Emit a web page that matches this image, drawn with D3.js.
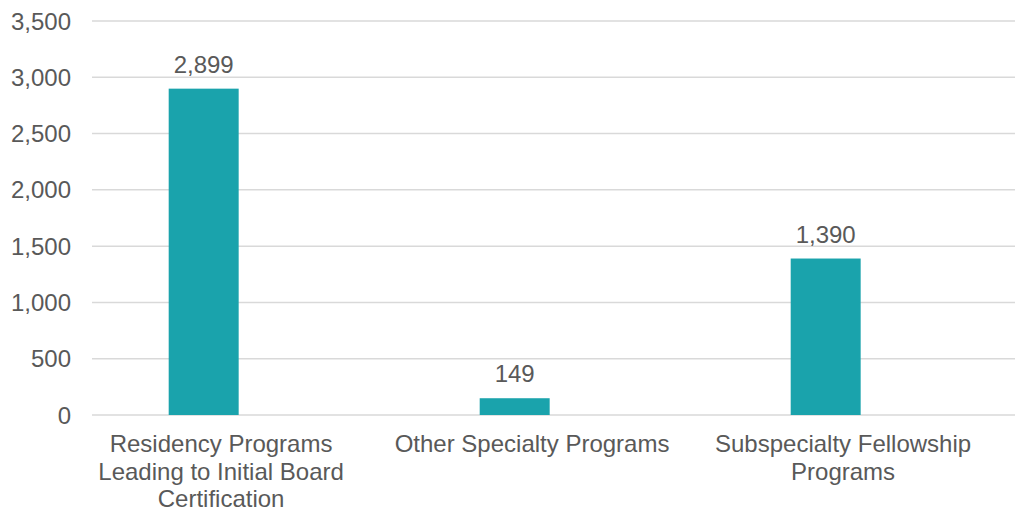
<!DOCTYPE html>
<html lang="en">
<head>
  <meta charset="UTF-8">
  <title>Programs by Type</title>
  <script src="https://d3js.org/d3.v7.min.js"></script>
  <style>
    body {
      margin: 0;
      padding: 0;
      background: #fff;
      font-family: "Liberation Sans", Arial, sans-serif;
    }
    svg text {
      fill: #595959;
    }
  </style>
</head>
<body>
  <div id="chart"></div>

  <script>
    // chart data
    const categories = [
      "Residency Programs Leading to Initial Board Certification",
      "Other Specialty Programs",
      "Subspecialty Fellowship Programs"
    ];
    const categoryLines = [
      ["Residency Programs", "Leading to Initial Board", "Certification"],
      ["Other Specialty Programs"],
      ["Subspecialty Fellowship", "Programs"]
    ];
    const programCounts = [2899, 149, 1390];
    const yTicks = [0, 500, 1000, 1500, 2000, 2500, 3000, 3500];

    const width = 1015, height = 512;
    const margin = {top: 21, right: -10, bottom: 97, left: 92};

    const svg = d3.select("#chart").append("svg")
      .attr("width", width)
      .attr("height", height);

    const x = d3.scaleBand()
      .domain(categories)
      .range([margin.left, width - margin.right])
      .padding(0);

    const y = d3.scaleLinear()
      .domain([0, 3500])
      .range([height - margin.bottom, margin.top]);

    const fmt = d3.format(",");

    // gridlines
    svg.append("g")
      .selectAll("line")
      .data(yTicks)
      .join("line")
      .attr("x1", margin.left)
      .attr("x2", width - margin.right)
      .attr("y1", d => y(d))
      .attr("y2", d => y(d))
      .attr("stroke", "#d9d9d9")
      .attr("stroke-width", 1.5);

    // y axis labels
    svg.append("g")
      .selectAll("text")
      .data(yTicks)
      .join("text")
      .attr("x", 71)
      .attr("y", d => y(d))
      .attr("dy", "0.36em")
      .attr("text-anchor", "end")
      .style("font-size", "24px")
      .text(d => fmt(d));

    const barW = x.bandwidth() * 0.225;
    const barX = d => x(d) + x.bandwidth() * 0.2466;

    // bars
    svg.append("g")
      .selectAll("rect")
      .data(categories)
      .join("rect")
      .attr("x", d => barX(d))
      .attr("width", barW)
      .attr("y", (d, i) => y(programCounts[i]))
      .attr("height", (d, i) => y(0) - y(programCounts[i]))
      .attr("fill", "#1aa3ac");

    // value labels
    svg.append("g")
      .selectAll("text")
      .data(categories)
      .join("text")
      .attr("x", d => barX(d) + barW / 2)
      .attr("y", (d, i) => y(programCounts[i]) - 16)
      .attr("text-anchor", "middle")
      .style("font-size", "24px")
      .text((d, i) => fmt(programCounts[i]));

    // category labels
    const catG = svg.append("g")
      .selectAll("text")
      .data(categories)
      .join("text")
      .attr("text-anchor", "middle")
      .style("font-size", "24px")
      .attr("transform", d => `translate(${x(d) + x.bandwidth() * 0.415}, 452)`);

    catG.selectAll("tspan")
      .data((d, i) => categoryLines[i])
      .join("tspan")
      .attr("x", 0)
      .attr("y", (d, j) => j * 27.5)
      .text(d => d);
  </script>
</body>
</html>
